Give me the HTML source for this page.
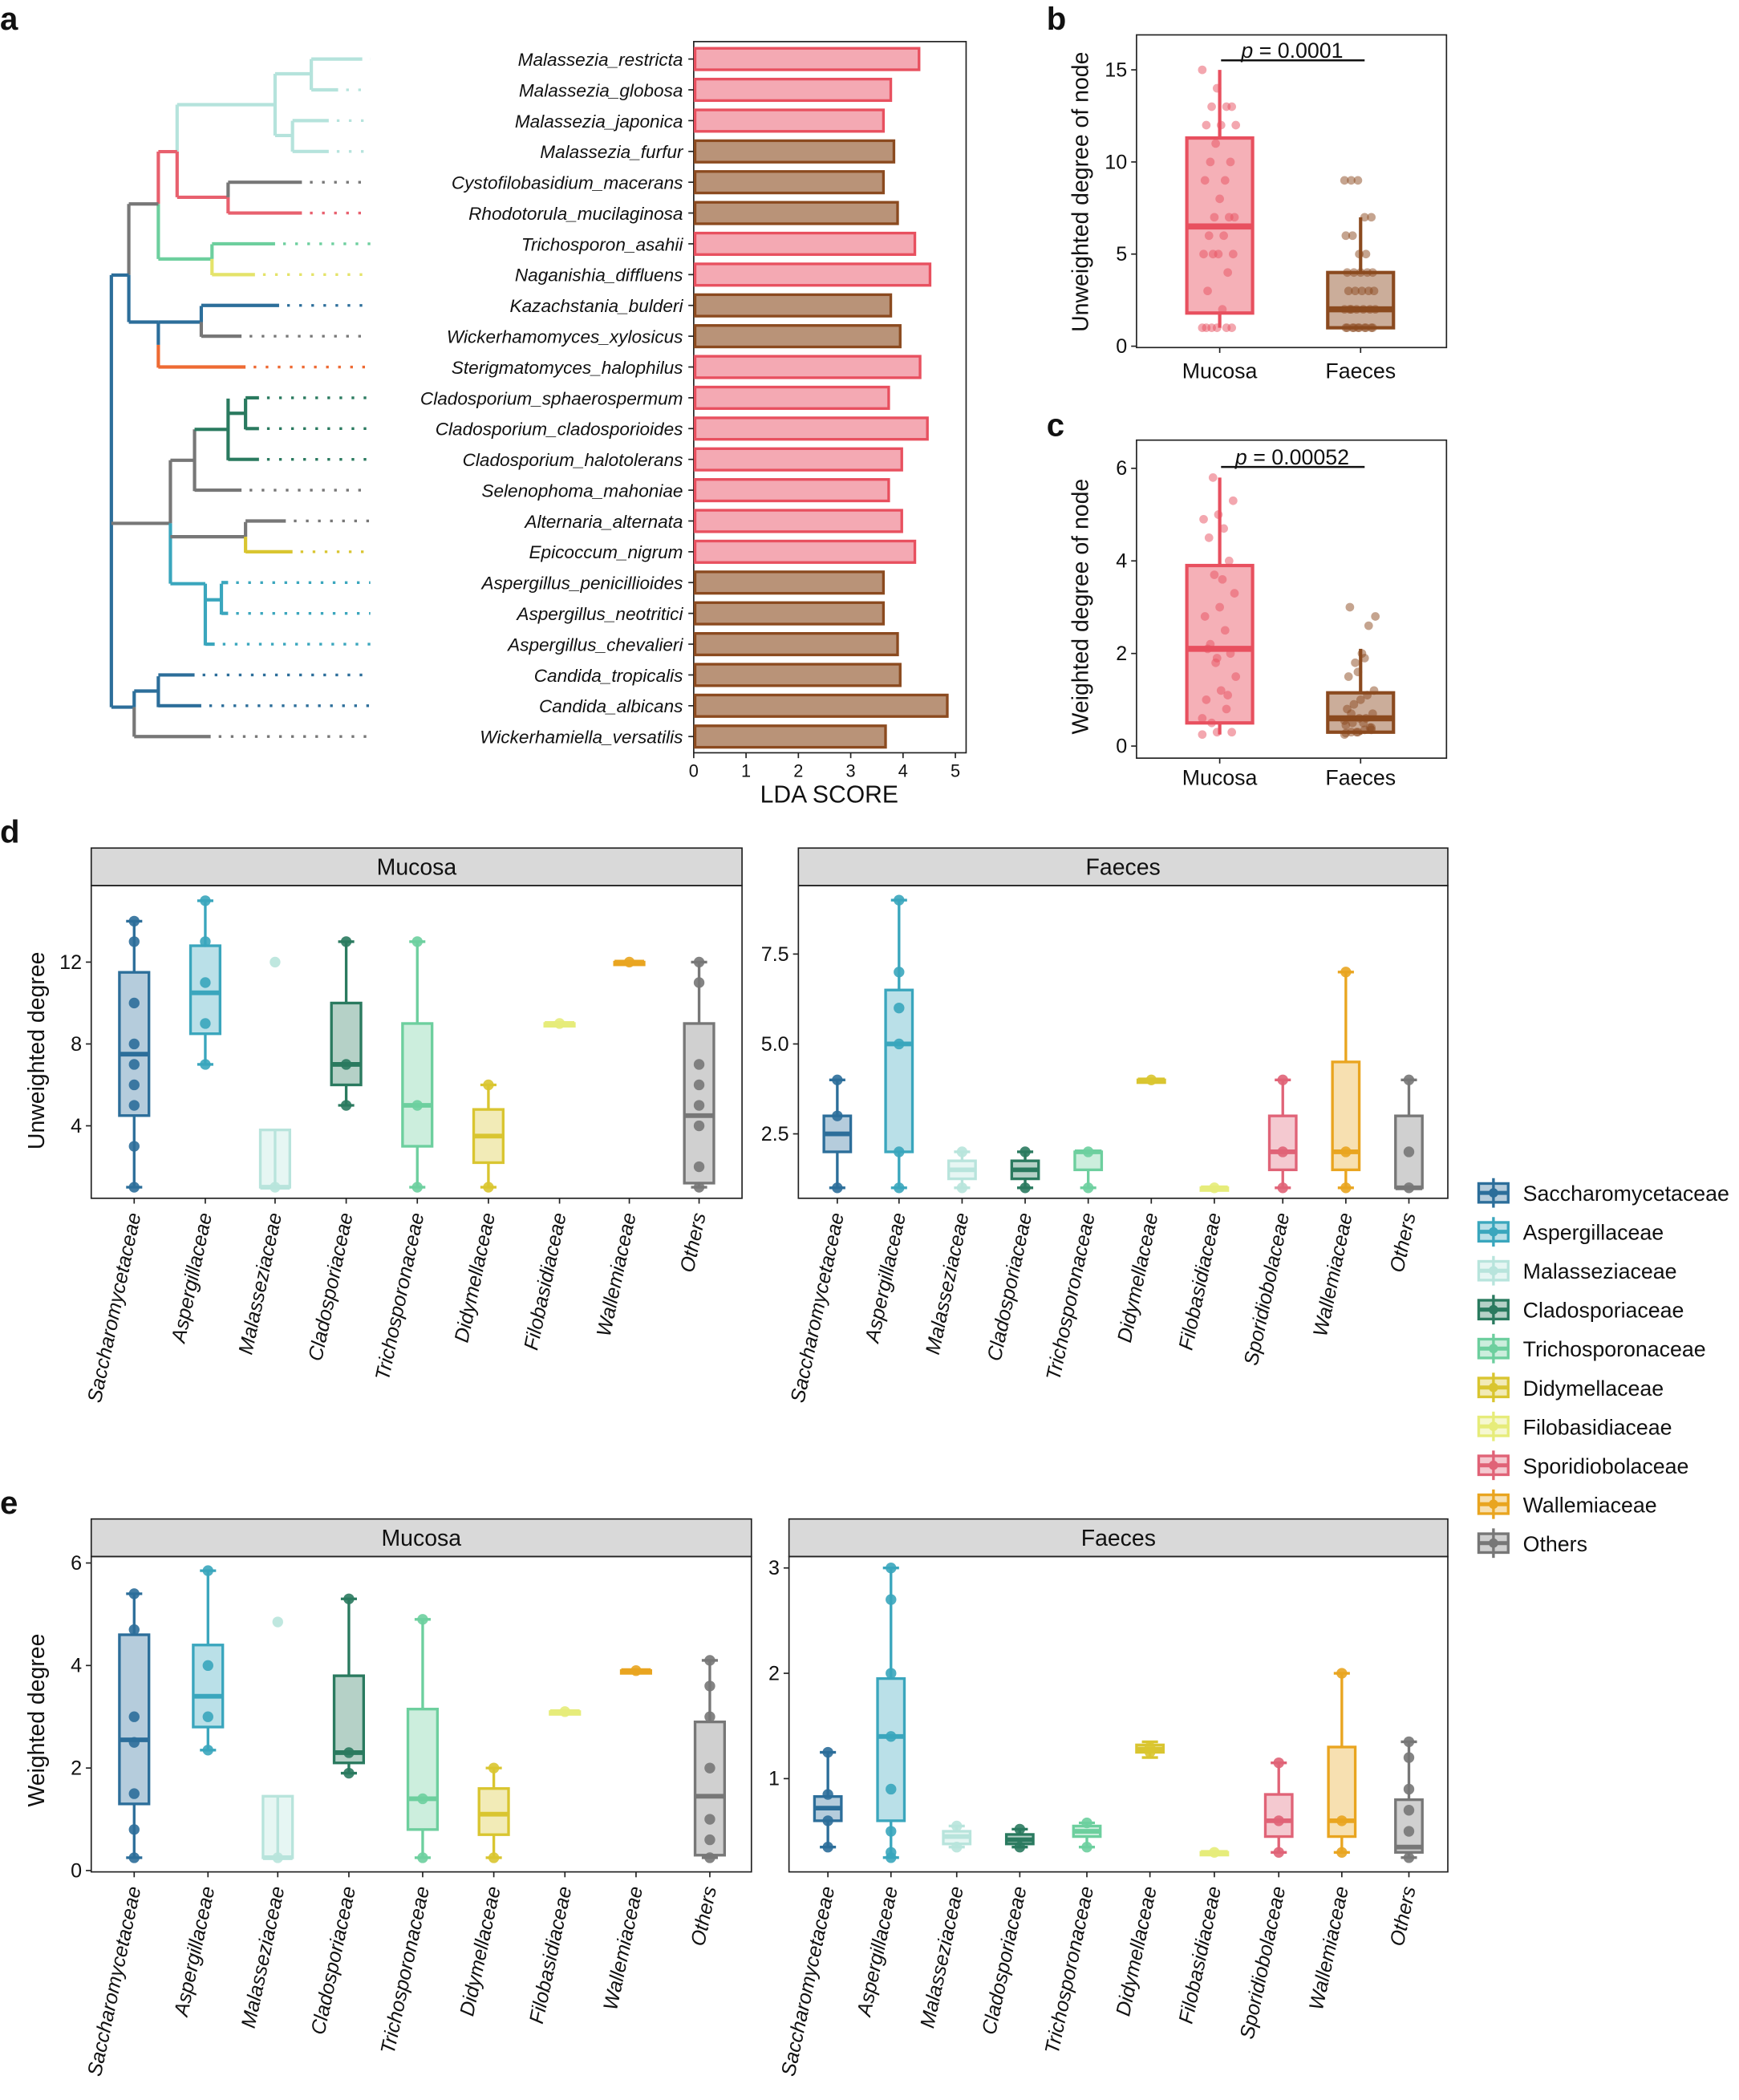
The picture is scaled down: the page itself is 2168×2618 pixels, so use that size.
<!DOCTYPE html>
<html><head><meta charset="utf-8"><style>
html,body{margin:0;padding:0;background:#fff}
svg{display:block}
text{font-family:"Liberation Sans",sans-serif}
</style></head><body>
<svg id="s" xmlns="http://www.w3.org/2000/svg" width="2168" height="2618" viewBox="0 0 1296 1565" preserveAspectRatio="none"></svg>
<script>
const S=document.getElementById('s');let h='';
function L(x1,y1,x2,y2,c,w,d){h+=`<line x1="${x1}" y1="${y1}" x2="${x2}" y2="${y2}" stroke="${c}" stroke-width="${w||2}"${d?` stroke-dasharray="${d}"`:''}/>`}
function T(x,y,t,o){o=o||{};h+=`<text x="${x}" y="${y}" font-size="${o.s||15}" fill="${o.c||'#111'}" text-anchor="${o.a||'start'}"${o.i?' font-style="italic"':''}${o.b?' font-weight="bold"':''}${o.r!==undefined?` transform="rotate(${o.r} ${x} ${y})"`:''}>${t}</text>`}
function R(x,y,w,hh,f,st,sw,op){h+=`<rect x="${x}" y="${y}" width="${w}" height="${hh}" fill="${f}"${op!==undefined?` fill-opacity="${op}"`:''} stroke="${st||'none'}" stroke-width="${sw||0}"/>`}
function C(x,y,r,c,op){h+=`<circle cx="${x}" cy="${y}" r="${r}" fill="${c}" fill-opacity="${op||1}"/>`}
T(0,22,'a',{s:24,b:1});T(780,22,'b',{s:24,b:1});T(780,325,'c',{s:24,b:1});T(0,628,'d',{s:24,b:1});T(0,1128,'e',{s:24,b:1});
const names=['Malassezia_restricta','Malassezia_globosa','Malassezia_japonica','Malassezia_furfur','Cystofilobasidium_macerans','Rhodotorula_mucilaginosa','Trichosporon_asahii','Naganishia_diffluens','Kazachstania_bulderi','Wickerhamomyces_xylosicus','Sterigmatomyces_halophilus','Cladosporium_sphaerospermum','Cladosporium_cladosporioides','Cladosporium_halotolerans','Selenophoma_mahoniae','Alternaria_alternata','Epicoccum_nigrum','Aspergillus_penicillioides','Aspergillus_neotritici','Aspergillus_chevalieri','Candida_tropicalis','Candida_albicans','Wickerhamiella_versatilis'];
const vals=[4.28,3.74,3.6,3.8,3.6,3.87,4.2,4.49,3.74,3.92,4.3,3.7,4.44,3.95,3.7,3.95,4.2,3.6,3.6,3.87,3.92,4.82,3.64];
const pk=[1,1,1,0,0,0,1,1,0,0,1,1,1,1,1,1,1,0,0,0,0,0,0];
const ry=i=>44+i*22.95;
R(517,31,203,530,'none','#222',1);
for(let i=0;i<23;i++){const y=ry(i);R(518,y-8,vals[i]*39,16,pk[i]?'#f4a9b3':'#b99378',pk[i]?'#e8505f':'#8b4a1f',2);
T(509,y+5,names[i],{a:'end',i:1,s:13.5});L(513,y,517,y,'#222',1);}
for(let k=0;k<=5;k++){L(517+39*k,561,517+39*k,565,'#222',1);T(517+39*k,579,k,{a:'middle',s:13});}
T(618,598,'LDA SCORE',{a:'middle',s:18});
const g='#777',lt='#b5e3dc',rd='#e8606e',gr='#6dcf9e',yl='#e4e36a',bl='#2c6e9a',or='#ee6a33',dg='#2a7a5f',tl='#3aa6bd',yd='#d9c530';
function leaf(i,x1,x2,c){const y=ry(i);L(x1,y,x2,y,c,2.5);L(x2+6,y,276,y,c,2,'2,7');}
leaf(0,232,270,lt);leaf(1,232,252,lt);leaf(2,218,245,lt);leaf(3,218,245,lt);
L(232,44,232,67,lt,2.5);L(205,55,232,55,lt,2.5);L(218,90,218,113,lt,2.5);L(205,101,218,101,lt,2.5);L(205,55,205,101,lt,2.5);L(132,78,205,78,lt,2.5);L(132,78,132,113,lt,2.5);
L(132,113,132,147,rd,2.5);L(132,147,170,147,rd,2.5);L(170,147,170,159,rd,2.5);L(170,136,170,147,g,2.5);leaf(4,170,225,g);leaf(5,170,225,rd);
L(118,113,132,113,rd,2.5);L(118,113,118,152,rd,2.5);L(118,152,118,193,gr,2.5);L(118,193,158,193,gr,2.5);L(158,182,158,193,gr,2.5);L(158,193,158,205,yl,2.5);leaf(6,158,205,gr);leaf(7,158,190,yl);
L(96,152,118,152,g,2.5);L(96,152,96,205,g,2.5);L(96,205,96,240,bl,2.5);L(96,240,118,240,bl,2.5);L(118,240,118,257,bl,2.5);L(118,257,118,274,or,2.5);
L(118,240,150,240,bl,2.5);L(150,228,150,240,bl,2.5);L(150,240,150,251,g,2.5);leaf(8,150,208,bl);leaf(9,150,180,g);leaf(10,118,183,or);
L(83,205,96,205,bl,2.5);L(83,205,83,527,bl,2.5);
L(83,390,127,390,g,2.5);L(127,343,127,390,g,2.5);L(127,390,127,435,tl,2.5);
L(127,343,145,343,g,2.5);L(145,320,145,366,g,2.5);L(145,320,170,320,dg,2.5);L(170,297,170,343,dg,2.5);L(170,308,183,308,dg,2.5);L(183,297,183,320,dg,2.5);
leaf(11,183,193,dg);leaf(12,183,193,dg);leaf(13,170,193,dg);leaf(14,145,180,g);
L(127,400,183,400,g,2.5);L(183,389,183,400,g,2.5);L(183,400,183,412,yd,2.5);leaf(15,183,213,g);leaf(16,183,218,yd);
L(127,435,153,435,tl,2.5);L(153,435,153,481,tl,2.5);L(153,447,165,447,tl,2.5);L(165,435,165,458,tl,2.5);leaf(17,165,170,tl);leaf(18,165,170,tl);leaf(19,153,160,tl);
L(83,527,100,527,bl,2.5);L(100,515,100,527,bl,2.5);L(100,527,100,549,g,2.5);L(100,515,118,515,bl,2.5);L(118,504,118,527,bl,2.5);leaf(20,118,145,bl);leaf(21,118,150,bl);leaf(22,100,157,g);
function box(cx,w,sc,q,col,pts,cap,o){o=o||{};const[lo,q1,md,q3,hi]=q;
L(cx,sc(hi),cx,sc(q3),col,o.lw||2);L(cx,sc(q1),cx,sc(lo),col,o.lw||2);
if(cap){L(cx-cap,sc(hi),cx+cap,sc(hi),col,2);L(cx-cap,sc(lo),cx+cap,sc(lo),col,2);}
R(cx-w/2,sc(q3),w,Math.max(sc(q1)-sc(q3),2),col,col,o.lw||2,o.fo||0.35);L(cx-w/2,sc(md),cx+w/2,sc(md),col,o.mw||3.5);
(pts||[]).forEach(p=>C(cx+(p[1]||0),sc(p[0]),o.pr||4,col,o.po||0.9));}
const bo={lw:2.5,mw:4.5,pr:3.2,po:0.5,fo:0.45};
// panel b
R(847,26,231,233,'none','#222',1);
let sb=v=>258-13.73*v;
[0,5,10,15].forEach(v=>{L(843,sb(v),847,sb(v),'#222',1);T(840,sb(v)+5,v,{a:'end',s:15});});
let mv=[15,14,13,13,13,12,12,12,11,10,10,9,9,8,7,7,7,6,6,5,5,5,5,4,3,2,1,1,1,1,1,1];
box(909,49,sb,[1,1.8,6.5,11.3,15],'#e8505f',mv.map((v,i)=>[v,((i*37)%26)-13]),0,bo);
let fv=[9,9,9,7,7,6,6,5,5,4,4,4,4,4,3,3,3,3,3,2,2,2,2,2,2,2,1,1,1,1,1,1,1,1,1,1];
box(1014,49,sb,[1,1,2,4,7],'#8b4a1f',fv.map((v,i)=>[v,((i*29)%24)-12]),0,bo);
L(910,45,1017,45,'#111',1.5);T(963,43,'<tspan font-style="italic">p</tspan> = 0.0001',{a:'middle',s:16});
T(909,282,'Mucosa',{a:'middle',s:16});T(1014,282,'Faeces',{a:'middle',s:16});L(909,259,909,263,'#222',1);L(1014,259,1014,263,'#222',1);
T(811,143,'Unweighted degree of node',{a:'middle',s:17,r:-90});
// panel c
R(847,328,231,237,'none','#222',1);
let sc2=v=>556-34.5*v;
[0,2,4,6].forEach(v=>{L(843,sc2(v),847,sc2(v),'#222',1);T(840,sc2(v)+5,v,{a:'end',s:15});});
let mw=[.25,.3,.3,.5,.8,1,1.2,1.5,1.8,2,2.2,2.5,2.8,3,3.3,3.7,4,4.5,4.7,4.9,5,5.3,5.8,1.1,2.1,3.6,.6,1.9];
box(909,49,sc2,[.25,.5,2.1,3.9,5.8],'#e8505f',mw.map((v,i)=>[v,((i*37)%26)-13]),0,bo);
let fw=[.25,.3,.3,.35,.4,.45,.5,.6,.6,.7,.8,.9,1,1.1,1.2,1.5,1.8,2,2.6,2.8,3,.3,.5,.4,.55,.7,1.6,1.9,.35,.28];
box(1014,49,sc2,[.25,.3,.6,1.15,2.1],'#8b4a1f',fw.map((v,i)=>[v,((i*29)%24)-12]),0,bo);
L(910,348,1017,348,'#111',1.5);T(963,346,'<tspan font-style="italic">p</tspan> = 0.00052',{a:'middle',s:16});
T(909,585,'Mucosa',{a:'middle',s:16});T(1014,585,'Faeces',{a:'middle',s:16});L(909,565,909,569,'#222',1);L(1014,565,1014,569,'#222',1);
T(811,452,'Weighted degree of node',{a:'middle',s:17,r:-90});
const COL={Saccharomycetaceae:'#2c6e9a',Aspergillaceae:'#3aa6bd',Malasseziaceae:'#b8e4dc',Cladosporiaceae:'#2a7a5f',Trichosporonaceae:'#6dcf9e',Didymellaceae:'#d9c530',Filobasidiaceae:'#e6ec7a',Sporidiobolaceae:'#e06377',Wallemiaceae:'#e9a520',Others:'#777'};
const mc=['Saccharomycetaceae','Aspergillaceae','Malasseziaceae','Cladosporiaceae','Trichosporonaceae','Didymellaceae','Filobasidiaceae','Wallemiaceae','Others'];
const fc=['Saccharomycetaceae','Aspergillaceae','Malasseziaceae','Cladosporiaceae','Trichosporonaceae','Didymellaceae','Filobasidiaceae','Sporidiobolaceae','Wallemiaceae','Others'];
function facet(x0,x1,sy,py0,py1,title,cats,xs,sc,ticks,data,bw){
R(x0,sy,x1-x0,28,'#d9d9d9','#222',1);T((x0+x1)/2,sy+20,title,{a:'middle',s:17});
R(x0,py0,x1-x0,py1-py0,'none','#222',1);
ticks.forEach(t=>{L(x0-4,sc(t[0]),x0,sc(t[0]),'#222',1);T(x0-7,sc(t[0])+5,t[1],{a:'end',s:15});});
cats.forEach((c,i)=>{const d=data[i];const col=COL[c];
box(xs[i],bw,sc,d.slice(0,5),col,(d[5]||[]).map(v=>[v,0]),6);
L(xs[i],py1,xs[i],py1+4,'#222',1);T(xs[i]+5,py1+12,c,{a:'end',s:15,i:1,r:-78});});}
let sd1=v=>900-15.25*v;
facet(68,553,632,660,893,'Mucosa',mc,[100,153,205,258,311,364,417,469,521],sd1,[[4,4],[8,8],[12,12]],[
[1,4.5,7.5,11.5,14,[1,3,5,6,7,8,10,13,14]],[7,8.5,10.5,12.8,15,[7,9,11,13,15]],[1,1,1,3.8,1,[1,12]],[5,6,7,10,13,[5,7,13]],[1,3,5,9,13,[1,5,13]],[1,2.2,3.5,4.8,6,[1,6]],[9,9,9,9,9,[9]],[12,12,12,12,12,[12]],[1,1.2,4.5,9,12,[1,2,4,5,6,7,11,12]]],22);
let sd2=v=>845-26.8*(v-2.5);
facet(595,1079,632,660,893,'Faeces',fc,[624,670,717,764,811,858,905,956,1003,1050],sd2,[[2.5,'2.5'],[5,'5.0'],[7.5,'7.5']],[
[1,2,2.5,3,4,[1,3,4]],[1,2,5,6.5,9,[1,2,5,6,7,9]],[1,1.25,1.5,1.75,2,[1,2]],[1,1.25,1.5,1.75,2,[1,2]],[1,1.5,2,2,2,[1,2]],[4,4,4,4,4,[4]],[1,1,1,1,1,[1]],[1,1.5,2,3,4,[1,2,4]],[1,1.5,2,4.5,7,[1,2,7]],[1,1,1,3,4,[1,2,4]]],20);
T(33,783,'Unweighted degree',{a:'middle',s:17,r:-90});
let se1=v=>1394-38.2*v;
facet(68,560,1132,1160,1395,'Mucosa',mc,[100,155,207,260,315,368,421,474,529],se1,[[0,0],[2,2],[4,4],[6,6]],[
[.25,1.3,2.55,4.6,5.4,[.25,.8,1.5,2.5,3,4.7,5.4]],[2.35,2.8,3.4,4.4,5.85,[2.35,3,4,5.85]],[.25,.25,.25,1.45,.25,[.25,4.85]],[1.9,2.1,2.3,3.8,5.3,[1.9,2.3,5.3]],[.25,.8,1.4,3.15,4.9,[.25,1.4,4.9]],[.25,.7,1.1,1.6,2,[.25,2]],[3.1,3.1,3.1,3.1,3.1,[3.1]],[3.9,3.9,3.9,3.9,3.9,[3.9]],[.25,.3,1.45,2.9,4.1,[.25,.6,1,2,3,3.6,4.1]]],22);
let se2=v=>1404-78.5*v;
facet(588,1079,1132,1160,1395,'Faeces',fc,[617,664,713,760,810,857,905,953,1000,1050],se2,[[1,1],[2,2],[3,3]],[
[.35,.6,.72,.83,1.25,[.35,.6,.85,1.25]],[.25,.6,1.4,1.95,3,[.25,.3,.5,.9,1.4,2,2.7,3]],[.35,.38,.45,.5,.55,[.35,.55]],[.35,.38,.42,.47,.52,[.35,.52]],[.35,.45,.5,.55,.58,[.35,.58]],[1.2,1.25,1.28,1.32,1.35,[1.25,1.3]],[.3,.3,.3,.3,.3,[.3]],[.3,.45,.6,.85,1.15,[.3,.6,1.15]],[.3,.45,.6,1.3,2,[.3,.6,2]],[.25,.3,.35,.8,1.35,[.25,.5,.7,.9,1.2,1.35]]],20);
T(33,1282,'Weighted degree',{a:'middle',s:17,r:-90});
fc.forEach((c,i)=>{const y=889+i*29,col=COL[c];R(1102,y-7,22,14,col,col,2,0.35);L(1113,y-11,1113,y+11,col,2);L(1102,y,1124,y,col,3);C(1113,y,3.5,col);T(1135,y+6,c,{s:16});});
S.innerHTML=h;
</script>
</body></html>
